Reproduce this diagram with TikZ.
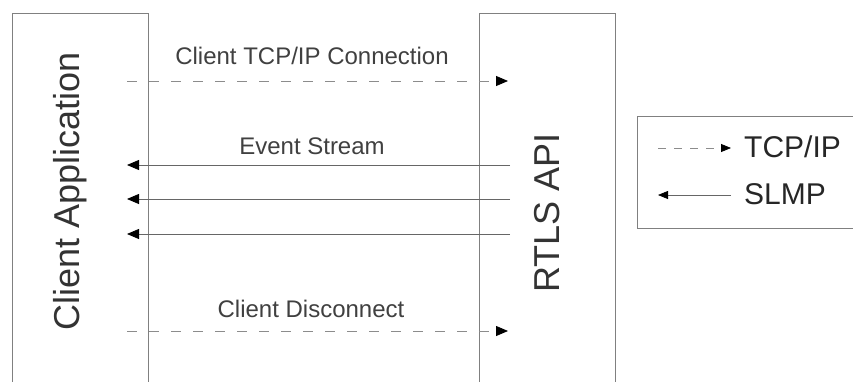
\documentclass[tikz,border=0pt]{standalone}
\usepackage{fontspec}
\setmainfont{Liberation Sans}
\usetikzlibrary{arrows.meta}
\begin{document}
\begin{tikzpicture}[x=1pt,y=1pt,
  boxline/.style={draw=black!50, line width=0.9pt},
  tcp/.style={draw=black!45, line width=0.8pt, dash pattern=on 10pt off 12pt, -{Triangle[length=12pt,width=10pt,black]}},
  slmp/.style={draw=black!60, line width=0.8pt, -{Triangle[length=12pt,width=10pt,black]}},
  msg/.style={font=\fontsize{24}{26}\selectfont, text=black!75, inner sep=0pt},
  big/.style={font=\fontsize{36}{38}\selectfont, text=black!80, inner sep=0pt, rotate=90},
  leg/.style={font=\fontsize{30}{32}\selectfont, text=black!85, inner sep=0pt, anchor=west}
]
\useasboundingbox (0,0) rectangle (853,381);
\clip (0,0) rectangle (853,381);
% participant boxes (open at the bottom)
\node[boxline, minimum width=136pt, minimum height=380pt, inner sep=0pt] (app) at (80,178) {};
\node[boxline, minimum width=136pt, minimum height=380pt, inner sep=0pt] (api) at (547,178) {};
\node[big] (appl) at (70,190) {Client Application};
\node[big] (apil) at (547,168) {RTLS API};
% message coordinates
\coordinate (c1s) at (127,300); \coordinate (c1e) at (508,300);
\coordinate (e1s) at (510,216); \coordinate (e1e) at (127,216);
\coordinate (e2s) at (510,182); \coordinate (e2e) at (127,182);
\coordinate (e3s) at (510,147); \coordinate (e3e) at (127,147);
\coordinate (d1s) at (127,50);  \coordinate (d1e) at (508,50);
\draw[tcp] (c1s) -- (c1e);
\draw[slmp] (e1s) -- (e1e);
\draw[slmp] (e2s) -- (e2e);
\draw[slmp] (e3s) -- (e3e);
\draw[tcp] (d1s) -- (d1e);
\node[msg] (conn) at (312,325) {Client TCP/IP Connection};
\node[msg] (ev) at (312,235) {Event Stream};
\node[msg] (disc) at (311,72) {Client Disconnect};
% legend
\node[boxline, minimum width=240pt, minimum height=112pt, inner sep=0pt] (legend) at (757,209) {};
\coordinate (l1s) at (658,233); \coordinate (l1e) at (731,233);
\coordinate (l2s) at (731,186); \coordinate (l2e) at (658,186);
\draw[tcp, dash pattern=on 8pt off 8pt, -{Triangle[length=10pt,width=8pt,black]}] (l1s) -- (l1e);
\draw[slmp, -{Triangle[length=10pt,width=8pt,black]}] (l2s) -- (l2e);
\node[leg] (tcpl) at (744,234) {TCP/IP};
\node[leg] (slmpl) at (744,187) {SLMP};
\end{tikzpicture}
\end{document}
